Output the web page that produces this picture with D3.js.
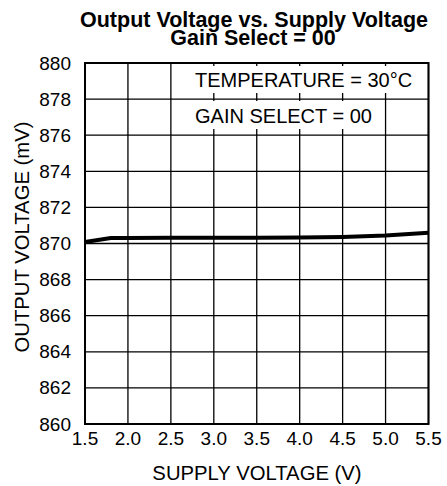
<!DOCTYPE html>
<html>
<head>
<meta charset="utf-8">
<script src="https://cdn.jsdelivr.net/npm/d3@7"></script>
<style>
  body { margin: 0; background: #fff; }
  text { font-family: "Liberation Sans", Arial, sans-serif; fill: #000; }
</style>
</head>
<body>
<svg></svg>
<script>
let supplyVoltage = [1.5, 1.8, 2.0, 2.5, 3.0, 3.5, 4.0, 4.5, 5.0, 5.5];
let outputVoltage = [870.08, 870.3, 870.31, 870.32, 870.32, 870.32, 870.33, 870.36, 870.44, 870.6];
let xTicks = [1.5, 2.0, 2.5, 3.0, 3.5, 4.0, 4.5, 5.0, 5.5];
let yTicks = [860, 862, 864, 866, 868, 870, 872, 874, 876, 878, 880];
let legendLines = ['TEMPERATURE = 30°C', 'GAIN SELECT = 00'];

let width = 447;
let height = 486;
let margin = { top: 63, right: 18.5, bottom: 62, left: 85 };

let svg = d3.select('svg')
    .attr('width', width)
    .attr('height', height);

let x = d3.scaleLinear()
    .domain([1.5, 5.5])
    .range([margin.left, width - margin.right]);

let y = d3.scaleLinear()
    .domain([860, 880])
    .range([height - margin.bottom, margin.top]);

// grid
svg.append('g')
    .selectAll('line')
    .data(xTicks)
    .enter()
    .append('line')
        .attr('x1', d => x(d))
        .attr('x2', d => x(d))
        .attr('y1', y(860))
        .attr('y2', y(880))
        .attr('stroke', '#000')
        .attr('stroke-width', 1.3);

svg.append('g')
    .selectAll('line')
    .data(yTicks)
    .enter()
    .append('line')
        .attr('x1', x(1.5))
        .attr('x2', x(5.5))
        .attr('y1', d => y(d))
        .attr('y2', d => y(d))
        .attr('stroke', '#000')
        .attr('stroke-width', 1.3);

// legend text with white backing (hides grid behind it)
let legend = svg.append('g');
legend.append('rect')
    .attr('x', 190).attr('y', 66)
    .attr('width', 229).attr('height', 27)
    .attr('fill', '#fff');
legend.append('rect')
    .attr('x', 190).attr('y', 101)
    .attr('width', 190).attr('height', 28)
    .attr('fill', '#fff');
legend.selectAll('text')
    .data(legendLines)
    .enter()
    .append('text')
        .attr('x', 195)
        .attr('y', (d, i) => 87 + i * 36)
        .attr('font-size', 20)
        .text(d => d);

// frame
svg.append('rect')
    .attr('x', x(1.5))
    .attr('y', y(880))
    .attr('width', x(5.5) - x(1.5))
    .attr('height', y(860) - y(880))
    .attr('fill', 'none')
    .attr('stroke', '#000')
    .attr('stroke-width', 2);

// data line
let line = d3.line()
    .x((d, i) => x(supplyVoltage[i]))
    .y(d => y(d));

svg.append('path')
    .datum(outputVoltage)
    .attr('d', line)
    .attr('fill', 'none')
    .attr('stroke', '#000')
    .attr('stroke-width', 4);

// tick labels
svg.append('g')
    .selectAll('text')
    .data(yTicks)
    .enter()
    .append('text')
        .attr('x', 71)
        .attr('y', d => y(d) + 6.5)
        .attr('text-anchor', 'end')
        .attr('font-size', 19)
        .text(d => d);

svg.append('g')
    .selectAll('text')
    .data(xTicks)
    .enter()
    .append('text')
        .attr('x', d => x(d))
        .attr('y', 445)
        .attr('text-anchor', 'middle')
        .attr('font-size', 19)
        .text(d => d.toFixed(1));

// axis titles
svg.append('text')
    .attr('x', 257)
    .attr('y', 480)
    .attr('text-anchor', 'middle')
    .attr('font-size', 20.3)
    .text('SUPPLY VOLTAGE (V)');

svg.append('text')
    .attr('transform', 'translate(29 237) rotate(-90)')
    .attr('text-anchor', 'middle')
    .attr('font-size', 20.3)
    .text('OUTPUT VOLTAGE (mV)');

// title
svg.append('text')
    .attr('x', 254)
    .attr('y', 27)
    .attr('text-anchor', 'middle')
    .attr('font-size', 21.5)
    .attr('font-weight', 'bold')
    .text('Output Voltage vs. Supply Voltage');

svg.append('text')
    .attr('x', 253)
    .attr('y', 45)
    .attr('text-anchor', 'middle')
    .attr('font-size', 21.5)
    .attr('font-weight', 'bold')
    .text('Gain Select = 00');
</script>
</body>
</html>
